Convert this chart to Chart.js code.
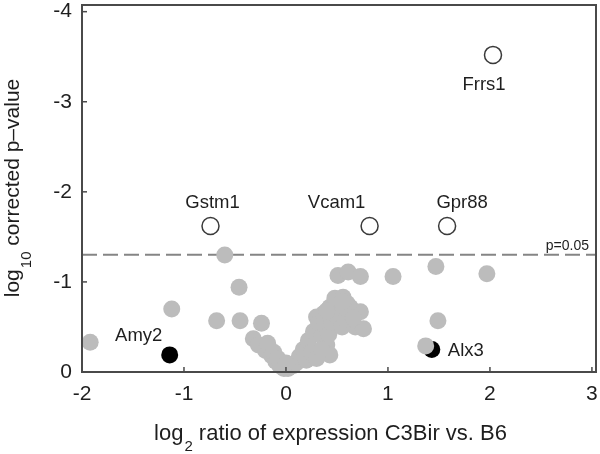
<!DOCTYPE html>
<html>
<head>
<meta charset="utf-8">
<script src="https://cdn.jsdelivr.net/npm/chart.js@4/dist/chart.umd.min.js"></script>
<style>
html,body{margin:0;padding:0;background:#fff;}
#wrap{width:600px;height:454px;position:relative;}
</style>
</head>
<body>
<div id="wrap"><canvas id="c" width="600" height="454"></canvas></div>
<script>
// ---- data ----
const xTicks = [-2, -1, 0, 1, 2, 3];
const yTicks = [-4, -3, -2, -1, 0];
const xRange = [-2, 3.04];
const yRange = [-4.074, 0];

const greyX = [-1.92, -1.12, -0.68, -0.60, -0.46, -0.45, -0.24, -0.32, -0.27, -0.20, -0.14, -0.10, -0.06, -0.02,
  0.02, 0.07, 0.10, 0.13, 0.17, 0.20, 0.22, 0.25, 0.27, 0.30, 0.32, 0.35, 0.37, 0.40, 0.43, 0.43, 0.47, 0.50,
  0.48, 0.53, 0.56, 0.60, 0.63, 0.68, 0.73, 0.76, 0.51, 0.61, 0.73, 1.05, 1.47, 1.97, 1.49, 1.37,
  -0.18, -0.12, -0.08, 0.00, 0.30, 0.35, 0.38, 0.42, 0.45, 0.50, 0.55, 0.58, 0.62, 0.66, 0.40, 0.55];
const greyY = [-0.33, -0.70, -0.57, -1.30, -0.94, -0.57, -0.54, -0.37, -0.30, -0.24, -0.18, -0.12, -0.07, -0.04,
  -0.04, -0.07, -0.10, -0.17, -0.25, -0.13, -0.35, -0.22, -0.45, -0.61, -0.55, -0.40, -0.65, -0.30, -0.72, -0.19, -0.60, -0.80,
  -0.82, -0.68, -0.83, -0.76, -0.72, -0.50, -0.67, -0.48, -1.07, -1.11, -1.06, -1.06, -1.17, -1.09, -0.57, -0.29,
  -0.32, -0.22, -0.15, -0.10, -0.15, -0.25, -0.52, -0.42, -0.55, -0.62, -0.50, -0.58, -0.66, -0.60, -0.68, -0.78];

const blackNames = ['Amy2', 'Alx3'];
const blackX = [-1.14, 1.43];
const blackY = [-0.19, -0.25];

const openNames = ['Gstm1', 'Vcam1', 'Gpr88', 'Frrs1'];
const openX = [-0.74, 0.82, 1.58, 2.03];
const openY = [-1.62, -1.62, -1.62, -3.52];

const pThreshold = -1.301;
const pLabel = 'p=0.05';

const xTitleMain = 'log', xTitleSub = '2', xTitleRest = ' ratio of expression C3Bir vs. B6';
const yTitleMain = 'log', yTitleSub = '10', yTitleRest = ' corrected p–value';

// ---- style ----
const FONT = '"Liberation Sans", Arial, Helvetica, sans-serif';
const TEXT = '#1e1e1e';
const labelStyle = {
  Gstm1: {dx: 2, dy: -23, align: 'center'},
  Vcam1: {dx: -33, dy: -23, align: 'center'},
  Gpr88: {dx: 15, dy: -23, align: 'center'},
  Frrs1: {dx: -9, dy: 30, align: 'center'},
  Amy2: {dx: -31, dy: -19, align: 'center'},
  Alx3: {dx: 16, dy: 1, align: 'left'}
};

const toPts = (xs, ys) => xs.map((x, i) => ({x: x, y: ys[i]}));
const noPad = s => { s.paddingTop = 0; s.paddingBottom = 0; s.paddingLeft = 0; s.paddingRight = 0; };

const decor = {
  id: 'decor',
  afterDraw(chart) {
    const ctx = chart.ctx, a = chart.chartArea;
    const xs = chart.scales.x, ys = chart.scales.y;
    ctx.save();
    // frame
    ctx.strokeStyle = '#4a4a4a';
    ctx.lineWidth = 2;
    ctx.strokeRect(a.left, a.top, a.right - a.left, a.bottom - a.top);
    // inner ticks
    ctx.lineWidth = 1.5;
    xTicks.forEach(v => {
      const px = xs.getPixelForValue(v);
      ctx.beginPath(); ctx.moveTo(px, a.bottom); ctx.lineTo(px, a.bottom - 5); ctx.stroke();
    });
    yTicks.forEach(v => {
      const py = ys.getPixelForValue(v);
      ctx.beginPath(); ctx.moveTo(a.left, py); ctx.lineTo(a.left + 5, py); ctx.stroke();
    });
    // p label
    ctx.fillStyle = TEXT;
    ctx.font = '14px ' + FONT;
    ctx.textAlign = 'right';
    ctx.textBaseline = 'alphabetic';
    ctx.fillText(pLabel, a.right - 7, ys.getPixelForValue(pThreshold) - 5);
    // point labels
    ctx.font = '18.5px ' + FONT;
    ctx.textBaseline = 'middle';
    const lab = (names, X, Y) => names.forEach((n, i) => {
      const s = labelStyle[n];
      ctx.textAlign = s.align;
      ctx.fillText(n, xs.getPixelForValue(X[i]) + s.dx, ys.getPixelForValue(Y[i]) + s.dy);
    });
    lab(openNames, openX, openY);
    lab(blackNames, blackX, blackY);
    // x title
    ctx.textAlign = 'left';
    ctx.textBaseline = 'alphabetic';
    const mainX = '22px ' + FONT, mainF = '21px ' + FONT, subF = '15px ' + FONT;
    ctx.font = mainX; const w1 = ctx.measureText(xTitleMain).width, w3 = ctx.measureText(xTitleRest).width;
    ctx.font = subF; const w2 = ctx.measureText(xTitleSub).width;
    let x0 = 330 - (w1 + w2 + w3) / 2, by = 440;
    ctx.font = mainX; ctx.fillText(xTitleMain, x0, by);
    ctx.font = subF; ctx.fillText(xTitleSub, x0 + w1 + 1, by + 11);
    ctx.font = mainX; ctx.fillText(xTitleRest, x0 + w1 + w2 + 1, by);
    // y title
    ctx.save();
    ctx.translate(19, (a.top + a.bottom) / 2);
    ctx.rotate(-Math.PI / 2);
    ctx.font = mainF; const v1 = ctx.measureText(yTitleMain).width, v3 = ctx.measureText(yTitleRest).width;
    ctx.font = subF; const v2 = ctx.measureText(yTitleSub).width;
    let y0 = -(v1 + v2 + v3) / 2;
    ctx.font = mainF; ctx.fillText(yTitleMain, y0, 0);
    ctx.font = subF; ctx.fillText(yTitleSub, y0 + v1 + 1, 12);
    ctx.font = mainF; ctx.fillText(yTitleRest, y0 + v1 + v2 + 1, 0);
    ctx.restore();
    ctx.restore();
  }
};

new Chart(document.getElementById('c'), {
  type: 'scatter',
  data: {
    datasets: [
      {
        label: 'significant', data: toPts(openX, openY), order: 0,
        pointRadius: 8.5, pointBackgroundColor: '#ffffff', pointBorderColor: '#3a3a3a', pointBorderWidth: 1.5, clip: false
      },
      {
        label: 'genes', data: toPts(greyX, greyY), order: 1,
        pointRadius: 8.5, pointBackgroundColor: '#bcbcbc', pointBorderColor: '#bcbcbc', pointBorderWidth: 0, clip: false
      },
      {
        label: 'marked', data: toPts(blackX, blackY), order: 2,
        pointRadius: 8.5, pointBackgroundColor: '#000000', pointBorderColor: '#000000', pointBorderWidth: 0, clip: false
      },
      {
        type: 'line', label: 'threshold', order: 3,
        data: [{x: xRange[0], y: pThreshold}, {x: xRange[1], y: pThreshold}],
        borderColor: '#858585', borderWidth: 2, borderDash: [15, 6], pointRadius: 0, fill: false
      }
    ]
  },
  options: {
    responsive: false,
    animation: false,
    events: [],
    layout: {autoPadding: false, padding: {left: 0, right: 4, top: 5, bottom: 0}},
    plugins: {legend: {display: false}, tooltip: {enabled: false}},
    scales: {
      x: {
        type: 'linear', min: xRange[0], max: xRange[1],
        afterBuildTicks: s => { s.ticks = xTicks.map(v => ({value: v})); },
        afterFit: s => { s.height = 82; noPad(s); },
        grid: {display: false, drawTicks: false},
        border: {display: false},
        ticks: {padding: 10, color: TEXT, font: {family: FONT, size: 21}, maxRotation: 0, autoSkip: false}
      },
      y: {
        type: 'linear', min: yRange[0], max: yRange[1], reverse: true,
        afterBuildTicks: s => { s.ticks = yTicks.map(v => ({value: v})); },
        afterFit: s => { s.width = 82; noPad(s); },
        grid: {display: false, drawTicks: false},
        border: {display: false},
        ticks: {padding: 10, color: TEXT, font: {family: FONT, size: 21}, autoSkip: false}
      }
    }
  },
  plugins: [decor]
});
</script>
</body>
</html>
